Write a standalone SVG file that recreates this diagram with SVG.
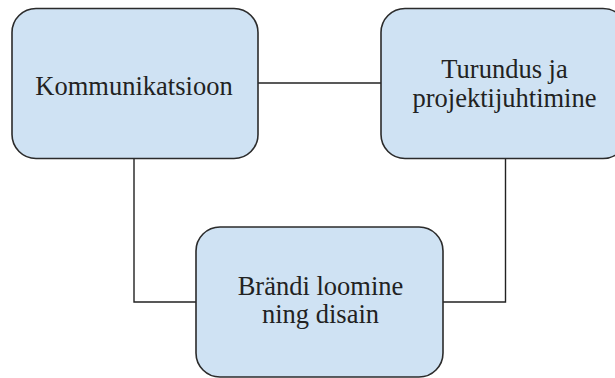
<svg xmlns="http://www.w3.org/2000/svg" width="615" height="378" viewBox="0 0 615 378">
<style>
.box{fill:#cfe2f3;stroke:#2b2b2b;stroke-width:1.6}
.lbl{font-family:"Liberation Serif","Times New Roman",serif;font-size:26.5px;fill:#222;text-anchor:middle}
.conn{fill:none;stroke:#222;stroke-width:1.4}
</style>
<rect x="0" y="0" width="615" height="378" fill="#ffffff"/>
<g id="connectors">
<line class="conn" x1="258" y1="83" x2="381" y2="83"/>
<polyline class="conn" points="134,158 134,302 196,302"/>
<polyline class="conn" points="505.5,158 505.5,302 443,302"/>
</g>
<g id="node-kommunikatsioon">
<rect class="box" x="12" y="8.5" width="246" height="150" rx="24"/>
<text class="lbl" x="134" y="94.5">Kommunikatsioon</text>
</g>
<g id="node-turundus">
<rect class="box" x="381" y="8.5" width="246" height="150" rx="24"/>
<text class="lbl" x="504.5" y="78">Turundus ja</text>
<text class="lbl" x="504.5" y="107">projektijuhtimine</text>
</g>
<g id="node-brandi">
<rect class="box" x="196" y="227" width="247" height="150" rx="24"/>
<text class="lbl" x="320.5" y="295">Brändi loomine</text>
<text class="lbl" x="320.5" y="323">ning disain</text>
</g>
</svg>
